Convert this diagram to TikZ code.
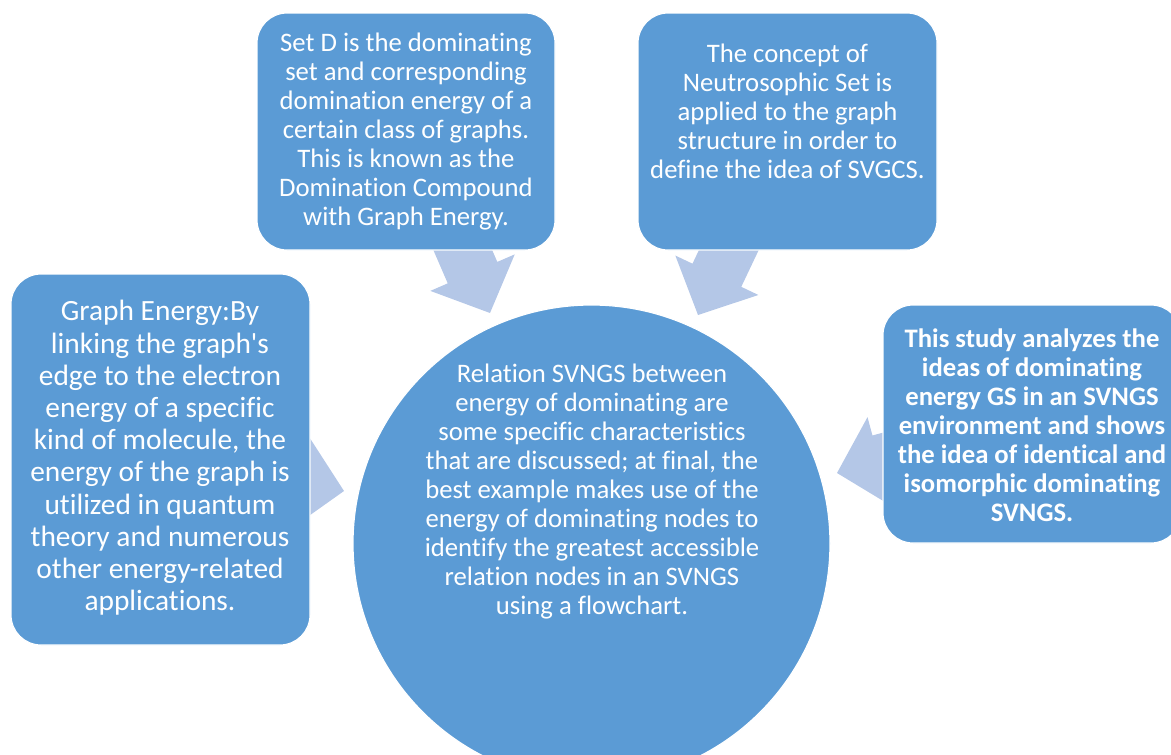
\documentclass[tikz,border=0pt]{standalone}
\usepackage{fontspec}
\setmainfont{Carlito}[Ligatures={TeXOff,NoCommon}]
\usetikzlibrary{backgrounds}
\definecolor{boxblue}{HTML}{5B9BD5}
\definecolor{arrowblue}{HTML}{B4C7E7}
\begin{document}
\begin{tikzpicture}[x=1pt,y=-1pt,
  box/.style={draw=white, line width=1.2pt, fill=boxblue, rounded corners=30pt, inner sep=0pt, rectangle},
  hub/.style={draw=white, line width=1.2pt, fill=boxblue, circle, inner sep=0pt, minimum size=477pt},
  txt/.style={text=white, align=center, font=\fontsize{26.7}{29}\selectfont, inner sep=0pt},
  bigtxt/.style={txt, font=\fontsize{29.4}{32.2}\selectfont},
  boldtxt/.style={txt, font=\fontsize{26.7}{29}\selectfont\bfseries},
  blockarrow/.style={fill=arrowblue, draw=none}]
\useasboundingbox (0,0) rectangle (1171,755);
\clip (0,0) rectangle (1171,755);

% boxes
\node[box, minimum width=298pt, minimum height=237pt] (D) at (406,131.5) {};
\node[box, minimum width=299pt, minimum height=237pt] (N) at (787.5,131.5) {};
\node[box, minimum width=299pt, minimum height=371pt] (GE) at (160.5,459.5) {};
\node[box, minimum width=298pt, minimum height=238pt] (S) at (1032,424) {};
\node[hub] (C) at (591.5,543.5) {};

% texts
\node[txt] (tD) at (406,132) {Set D is the dominating\\set and corresponding\\domination energy of a\\certain class of graphs.\\This is known as the\\Domination Compound\\with Graph Energy.};
\node[txt] (tN) at (787.5,111.5) {The concept of\\Neutrosophic Set is\\applied to the graph\\structure in order to\\define the idea of SVGCS.};
\node[bigtxt] (tGE) at (160,458) {Graph Energy:By\\linking the graph's\\edge to the electron\\energy of a specific\\kind of molecule, the\\energy of the graph is\\utilized in quantum\\theory and numerous\\other energy-related\\applications.};
\node[boldtxt] (tS) at (1032,425) {This study analyzes the\\ideas of dominating\\energy GS in an SVNGS\\environment and shows\\the idea of identical and\\isomorphic dominating\\SVNGS.};
\node[txt] (tC) at (592,492) {Relation SVNGS between\\energy of dominating are\\some specific characteristics\\that are discussed; at final, the\\best example makes use of the\\energy of dominating nodes to\\identify the greatest accessible\\relation nodes in an SVNGS\\using a flowchart.};

% block arrows behind the shapes
\begin{pgfonlayer}{background}
\foreach \tx/\ty/\ang in {490/313/-66.6, 698/315/-115.4, 344/491/-10.9, 837/473/-164.9}{
  \begin{scope}[shift={(\tx,\ty)}, rotate=\ang]
    \fill[blockarrow] (0,0) -- (-44,46) -- (-44,27) -- (-110,27) -- (-110,-27) -- (-44,-27) -- (-44,-46) -- cycle;
  \end{scope}
}
\end{pgfonlayer}
\end{tikzpicture}
\end{document}
